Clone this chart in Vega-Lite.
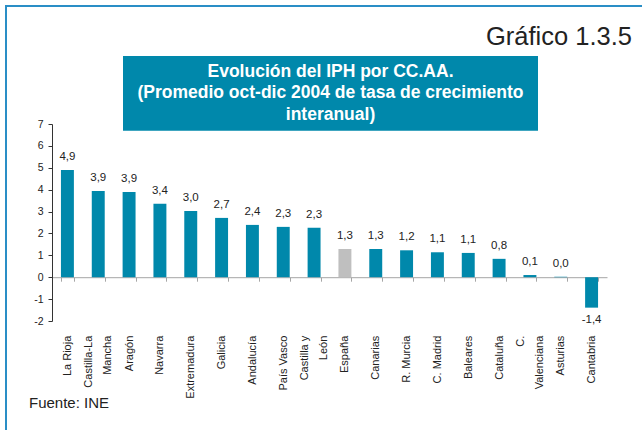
{
  "$schema": "https://vega.github.io/schema/vega-lite/v6.json",
  "width": 555,
  "height": 197,
  "autosize": "none",
  "padding": {"left": 52, "top": 124, "right": 35, "bottom": 109},
  "background": "white",
  "config": {
    "view": {"stroke": null},
    "font": "Liberation Sans",
    "locale": {"number": {"decimal": ",", "thousands": ".", "grouping": [3], "currency": ["", " €"], "minus": "-"}}
  },
  "datasets": {
    "iph": [
      {"region": "La Rioja", "value": 4.9},
      {"region": "Castilla-La|Mancha", "value": 3.94},
      {"region": "Aragón", "value": 3.89},
      {"region": "Navarra", "value": 3.36},
      {"region": "Extremadura", "value": 3.03},
      {"region": "Galicia", "value": 2.71},
      {"region": "Andalucía", "value": 2.39},
      {"region": "País Vasco", "value": 2.3},
      {"region": "Castilla y|León", "value": 2.26},
      {"region": "España", "value": 1.29},
      {"region": "Canarias", "value": 1.29},
      {"region": "R. Murcia", "value": 1.23},
      {"region": "C. Madrid", "value": 1.14},
      {"region": "Baleares", "value": 1.11},
      {"region": "Cataluña", "value": 0.84},
      {"region": "C.|Valenciana", "value": 0.1},
      {"region": "Asturias", "value": 0.02},
      {"region": "Cantabria", "value": -1.39}
    ],
    "deco": [{"banner": "Evolución del IPH por CC.AA."}]
  },
  "encoding": {
    "x": {
      "field": "region",
      "type": "nominal",
      "sort": null,
      "scale": {"paddingInner": 0.58, "paddingOuter": 0.29},
      "axis": {
        "title": null,
        "orient": "bottom",
        "offset": -43.8,
        "tickBand": "extent",
        "tickSize": 4,
        "tickColor": "#a6a6a6",
        "domainColor": "#a6a6a6",
        "labelAngle": -90,
        "labelAlign": "right",
        "labelBaseline": "middle",
        "labelPadding": 54,
        "labelFontSize": 11,
        "labelLineHeight": 19,
        "labelColor": "#222222",
        "labelExpr": "datum.value ? split(datum.value, '|') : ''",
        "labelOffset": {"condition": {"test": "datum.value && indexof(datum.value, '|') >= 0", "value": -9.5}, "value": 0}
      }
    },
    "y": {
      "field": "value",
      "type": "quantitative",
      "scale": {"domain": [-2, 7], "nice": false, "zero": false},
      "axis": {
        "title": null,
        "grid": false,
        "values": [-2, -1, 0, 1, 2, 3, 4, 5, 6, 7],
        "format": "d",
        "tickSize": 4,
        "tickColor": "#333333",
        "domainColor": "#333333",
        "labelFontSize": 10.5,
        "labelPadding": 5,
        "labelColor": "#222222"
      }
    }
  },
  "layer": [
    {
      "data": {"name": "deco"},
      "mark": {"type": "rect", "fill": null, "stroke": "#2a8ec6", "strokeWidth": 2},
      "encoding": {
        "x": {"value": -46}, "x2": {"value": 700},
        "y": {"value": -118}, "y2": {"value": 420}
      }
    },
    {
      "data": {"name": "deco"},
      "mark": {"type": "rect", "fill": "#0088ab"},
      "encoding": {
        "x": {"value": 71}, "x2": {"value": 486},
        "y": {"value": -68}, "y2": {"value": 6.7}
      }
    },
    {
      "data": {"name": "deco"},
      "mark": {
        "type": "text",
        "text": ["Evolución del IPH por CC.AA.", "(Promedio oct-dic 2004 de tasa de crecimiento", "interanual)"],
        "fontSize": 17.5,
        "fontWeight": "bold",
        "color": "white",
        "align": "center",
        "baseline": "alphabetic",
        "lineHeight": 21.5
      },
      "encoding": {"x": {"value": 278.5}, "y": {"value": -47.3}}
    },
    {
      "data": {"name": "deco"},
      "mark": {"type": "text", "text": "Gráfico 1.3.5", "fontSize": 25.5, "color": "#222222", "align": "right", "baseline": "alphabetic"},
      "encoding": {"x": {"value": 580}, "y": {"value": -79}}
    },
    {
      "data": {"name": "deco"},
      "mark": {"type": "text", "text": "Fuente: INE", "fontSize": 15, "color": "#222222", "align": "left", "baseline": "alphabetic"},
      "encoding": {"x": {"value": -23}, "y": {"value": 284}}
    },
    {
      "data": {"name": "iph"},
      "mark": {"type": "bar"},
      "encoding": {
        "color": {"condition": {"test": "datum.region === 'España'", "value": "#bfbfbf"}, "value": "#0088ab"}
      }
    },
    {
      "data": {"name": "iph"},
      "transform": [{"filter": "datum.value >= 0"}],
      "mark": {"type": "text", "baseline": "alphabetic", "dy": -10, "fontSize": 11.5, "color": "#222222"},
      "encoding": {"text": {"field": "value", "type": "quantitative", "format": ".1f"}}
    },
    {
      "data": {"name": "iph"},
      "transform": [{"filter": "datum.value < 0"}],
      "mark": {"type": "text", "baseline": "top", "dy": 6, "fontSize": 11.5, "color": "#222222"},
      "encoding": {"text": {"field": "value", "type": "quantitative", "format": ".1f"}}
    }
  ]
}
